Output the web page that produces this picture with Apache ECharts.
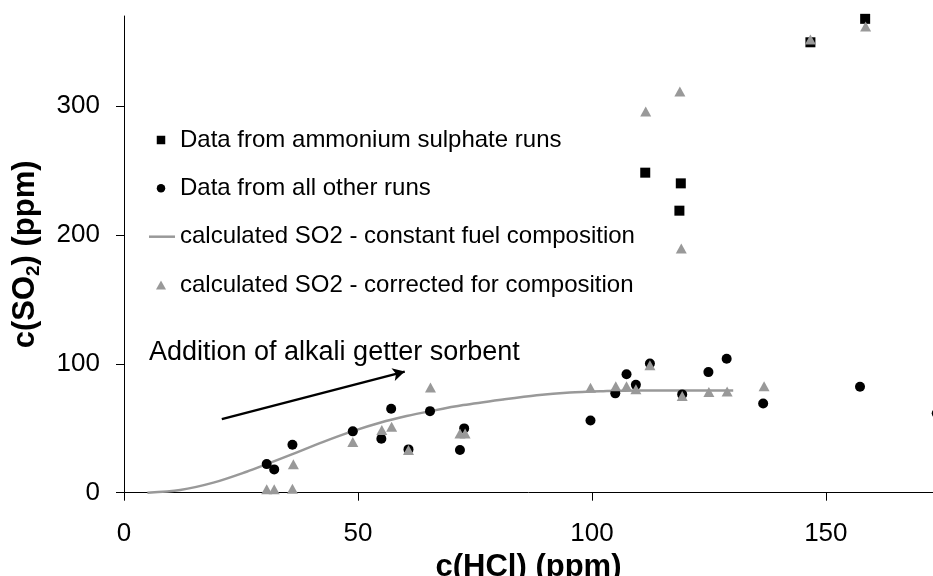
<!DOCTYPE html>
<html>
<head>
<meta charset="utf-8">
<script src="https://cdn.jsdelivr.net/npm/echarts@6/dist/echarts.min.js"></script>
<style>html,body{margin:0;padding:0;background:#fff;}#c{width:933px;height:576px;}</style>
</head>
<body>
<div id="c"></div>
<script>
// Data
const sulphateX = [111.4, 119.0, 118.7, 146.7, 158.4];
const sulphateY = [248.4, 240.1, 218.9, 349.6, 367.8];

const otherX = [30.5, 32.1, 36.0, 48.9, 55.0, 57.1, 65.4, 60.8, 71.8, 72.7, 99.7, 105.0, 107.4, 109.4, 112.4, 119.3, 124.9, 128.8, 136.6, 157.3, 173.7];
const otherY = [22.2, 18.1, 37.2, 47.6, 41.9, 65.1, 63.3, 33.6, 33.1, 49.9, 56.1, 77.1, 92.0, 83.7, 100.3, 76.3, 93.6, 103.9, 69.3, 82.2, 61.6];

const calcX = [5.0, 12.0, 19.1, 26.2, 30.5, 36.0, 42.6, 48.9, 54.7, 60.4, 65.5, 72.5, 81.0, 88.2, 95.3, 102.4, 109.5, 116.7, 130.2];
const calcY = [0, 2.1, 7.8, 16.3, 22.2, 30.0, 39.5, 47.8, 54.3, 59.5, 63.3, 68.0, 72.4, 75.7, 77.8, 78.8, 79.4, 79.4, 79.4];

const corrX = [30.5, 32.1, 36.0, 36.2, 48.9, 55.1, 57.2, 65.5, 60.8, 71.8, 72.9, 99.7, 105.1, 107.4, 109.4, 112.4, 119.3, 125.0, 128.9, 136.8, 118.8, 111.5, 119.1, 146.7, 158.5];
const corrY = [2.6, 2.6, 3.1, 22.0, 39.3, 48.6, 51.2, 81.7, 33.1, 46.0, 46.0, 81.4, 82.7, 82.7, 80.2, 99.0, 75.0, 78.1, 78.6, 82.7, 311.4, 295.9, 189.5, 351.7, 361.8];

const xTicks = [0, 50, 100, 150];
const yTicks = [0, 100, 200, 300];

const seriesNames = [
  'Data from ammonium sulphate runs',
  'Data from all other runs',
  'calculated SO2 - constant fuel composition',
  'calculated SO2 - corrected for composition'
];
const annotationText = 'Addition of alkali getter sorbent';
const arrowStart = [20.9, 57.1];
const arrowEnd = [60.0, 94.0];

const zip = (xs, ys) => xs.map((x, i) => [x, ys[i]]);
const FONT = '"Liberation Sans", Arial, sans-serif';
const GRAY = '#999999';

// one legend per entry so every icon keeps its own shape and the texts line up
const legendIcons = [
  {icon: 'rect', w: 8.5, h: 8.5, color: '#000'},
  {icon: 'circle', w: 8.5, h: 8.5, color: '#000'},
  {icon: 'rect', w: 26, h: 2.5, color: GRAY},
  {icon: 'triangle', w: 10, h: 9, color: GRAY}
];
const legendRowCenters = [140, 188.3, 236.7, 285];
const legends = seriesNames.map((name, i) => {
  const ic = legendIcons[i];
  const iconLeft = ic.w >= 26 ? 149 : 161 - ic.w / 2;
  return {
    data: [{name: name, icon: ic.icon, itemStyle: {color: ic.color, borderWidth: 0, opacity: 1}}],
    orient: 'vertical',
    left: iconLeft,
    top: legendRowCenters[i] - 12,
    padding: 0,
    itemWidth: ic.w,
    itemHeight: ic.h,
    selectedMode: false,
    textStyle: {
      fontFamily: FONT, fontSize: 24, color: '#000', lineHeight: 24,
      padding: [0, 0, 0, 180 - (iconLeft + ic.w + 5)]
    }
  };
});

const chart = echarts.init(document.getElementById('c'), null, {renderer: 'canvas'});
chart.setOption({
  animation: false,
  backgroundColor: '#fff',
  textStyle: {fontFamily: FONT},
  grid: {left: 124, right: 0, top: 16, bottom: 83.3, containLabel: false, outerBoundsMode: 'none'},
  legend: legends,
  xAxis: {
    type: 'value',
    min: 0, max: 172.9, interval: 50,
    splitLine: {show: false},
    axisLine: {show: true, lineStyle: {color: '#000', width: 1}},
    axisTick: {show: true, length: 8, lineStyle: {color: '#000'}, customValues: xTicks},
    axisLabel: {fontFamily: FONT, fontSize: 26, color: '#000', margin: 28, customValues: xTicks},
    name: 'c(HCl) (ppm)',
    nameLocation: 'middle',
    nameGap: 52,
    nameTextStyle: {fontFamily: FONT, fontSize: 31, fontWeight: 'bold', color: '#000'}
  },
  yAxis: {
    type: 'value',
    min: 0, max: 370, interval: 100,
    splitLine: {show: false},
    axisLine: {show: true, lineStyle: {color: '#000', width: 1}},
    axisTick: {show: true, length: 8, lineStyle: {color: '#000'}, customValues: yTicks},
    axisLabel: {fontFamily: FONT, fontSize: 26, color: '#000', margin: 24, customValues: yTicks},
    name: '{a|c(SO}{s|2}{a|) (ppm)}',
    nameLocation: 'middle',
    nameRotate: 90,
    nameGap: 81,
    nameTextStyle: {
      fontFamily: FONT, fontSize: 31, fontWeight: 'bold', color: '#000',
      rich: {
        a: {fontFamily: FONT, fontSize: 31, fontWeight: 'bold', color: '#000', lineHeight: 36},
        s: {fontFamily: FONT, fontSize: 19, fontWeight: 'bold', color: '#000', lineHeight: 36, verticalAlign: 'bottom'}
      }
    }
  },
  graphic: [{
    type: 'text',
    left: 149, top: 339,
    style: {text: annotationText, font: '27px ' + FONT, fill: '#000'}
  }],
  series: [
    {
      name: seriesNames[2],
      type: 'line',
      data: zip(calcX, calcY),
      smooth: 0.3,
      symbol: 'none',
      showSymbol: false,
      lineStyle: {color: GRAY, width: 2.5},
      itemStyle: {color: GRAY},
      z: 2,
      markLine: {
        silent: true,
        symbol: ['none', 'arrow'],
        symbolSize: [10, 12],
        label: {show: false},
        lineStyle: {color: '#000', width: 2.5, type: 'solid'},
        data: [[{coord: arrowStart}, {coord: arrowEnd}]]
      }
    },
    {
      name: seriesNames[0],
      type: 'scatter',
      data: zip(sulphateX, sulphateY),
      symbol: 'rect',
      symbolSize: 10,
      itemStyle: {color: '#000', opacity: 1},
      z: 3
    },
    {
      name: seriesNames[1],
      type: 'scatter',
      data: zip(otherX, otherY),
      symbol: 'circle',
      symbolSize: 10,
      clip: false,
      itemStyle: {color: '#000', opacity: 1},
      z: 3
    },
    {
      name: seriesNames[3],
      type: 'scatter',
      data: zip(corrX, corrY),
      symbol: 'triangle',
      symbolSize: [11, 10],
      itemStyle: {color: GRAY, opacity: 1},
      z: 4
    }
  ]
});
</script>
</body>
</html>
